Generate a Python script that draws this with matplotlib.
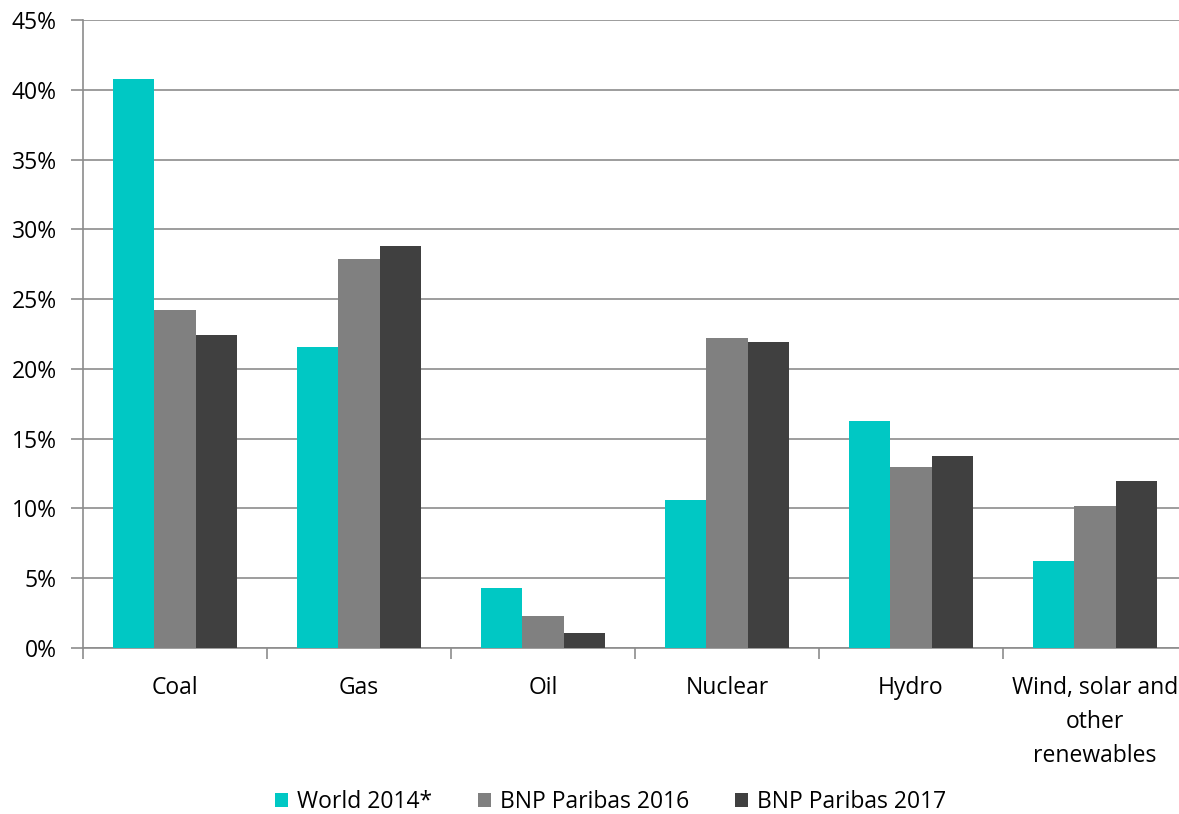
import numpy as np
import matplotlib.pyplot as plt

plt.rcParams['font.family'] = ['Open Sans', 'DejaVu Sans']

categories = ['Coal', 'Gas', 'Oil', 'Nuclear', 'Hydro', 'Wind, solar and\nother\nrenewables']
world_2014 = [40.8, 21.6, 4.3, 10.6, 16.3, 6.2]
bnp_2016 = [24.2, 27.9, 2.3, 22.2, 13.0, 10.2]
bnp_2017 = [22.4, 28.8, 1.1, 21.9, 13.75, 12.0]
series_names = ['World 2014*', 'BNP Paribas 2016', 'BNP Paribas 2017']
colors = ['#00C8C4', '#808080', '#404040']

W, H = 1179, 814
fig = plt.figure(figsize=(W / 100, H / 100), dpi=100)
ax = fig.add_axes([83 / W, 1 - 648 / H, 1104 / W, 628 / H])

x = np.arange(len(categories))
bw = 0.223
for i, (vals, name, c) in enumerate(zip([world_2014, bnp_2016, bnp_2017], series_names, colors)):
    ax.bar(x + (i - 1) * bw, vals, bw, color=c, label=name, zorder=3)

ax.set_xlim(-0.5, len(categories) - 0.5)
ax.set_ylim(0, 45)
ax.set_yticks(np.arange(0, 46, 5))
ax.set_yticklabels(['{}%'.format(v) for v in range(0, 46, 5)])
ax.yaxis.grid(True, color='#8c8c8c', linewidth=1.2, zorder=0)

ax.set_xticks(x)
ax.set_xticklabels(categories, linespacing=1.55)
ax.set_xticks(np.arange(-0.5, len(categories)), minor=True)
ax.tick_params(axis='x', which='major', length=0, pad=20)
ax.tick_params(axis='x', which='minor', length=8, width=1.2, color='#8c8c8c')
ax.tick_params(axis='y', length=9, width=1.2, color='#8c8c8c', pad=10)
ax.tick_params(labelsize=16.5, labelcolor='black')

for s in ['top', 'right']:
    ax.spines[s].set_visible(False)
for s in ['left', 'bottom']:
    ax.spines[s].set_color('#8c8c8c')
    ax.spines[s].set_linewidth(1.2)

fig.legend(loc='lower center', bbox_to_anchor=(0.518, -0.025), ncol=3, frameon=False,
           fontsize=16.5, handlelength=0.55, handleheight=0.55, handletextpad=0.4,
           columnspacing=2.0)

fig.savefig('out.png', dpi=100)
